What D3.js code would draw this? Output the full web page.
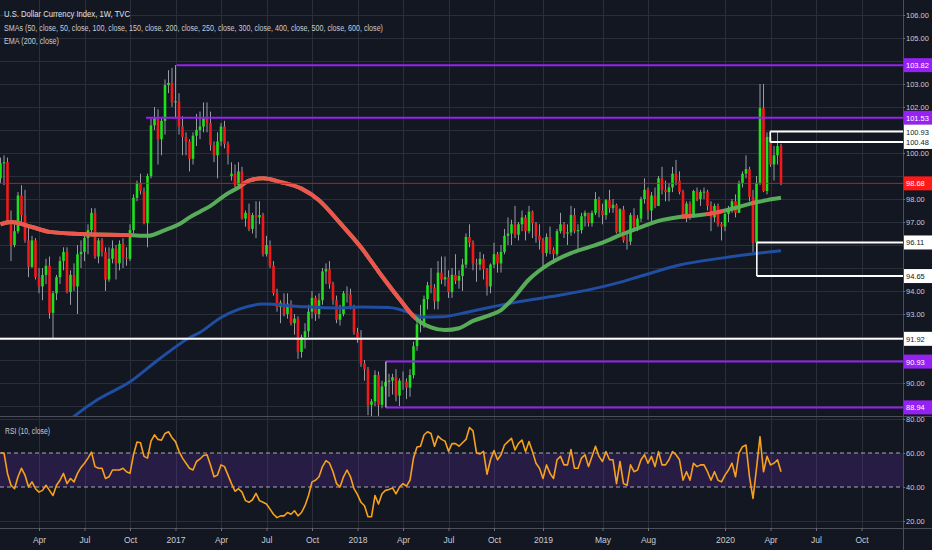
<!DOCTYPE html>
<html><head><meta charset="utf-8">
<script src="https://cdn.jsdelivr.net/npm/d3@7"></script>
<style>
html,body{margin:0;padding:0;background:#131722;overflow:hidden}
svg{display:block}
text{font-family:"Liberation Sans","Noto Sans",Arial,sans-serif}
</style></head><body>
<svg id="chart" width="932" height="550"></svg>
<script>
// ================= DATA =================
const firstWeekStart = "2016-01-18"; // weekly bars, one per week from this Monday
const opens = [
98.90,99.55,99.60,97.05,96.00,96.60,98.15,97.30,96.20,95.05,
96.20,94.60,94.20,94.70,95.10,93.05,93.90,94.60,95.30,95.70,
93.95,94.70,94.20,95.60,95.70,96.30,96.65,97.40,95.50,96.20,
95.70,94.50,95.40,95.85,95.20,96.05,95.45,95.40,96.65,98.05,
98.70,98.35,96.95,99.00,101.20,101.50,100.60,101.40,102.95,103.05,
102.20,102.25,101.15,100.70,100.50,99.75,100.75,101.00,101.15,101.50,
101.30,100.35,99.90,100.50,101.15,100.40,99.00,99.10,98.60,99.20,
97.15,97.40,96.70,97.30,97.20,97.30,95.60,96.00,95.10,93.90,
93.30,93.50,93.00,93.45,92.60,92.80,91.35,92.00,92.25,93.10,
93.70,93.00,93.60,94.85,94.95,94.30,93.60,92.75,93.00,93.90,
93.85,93.30,92.20,91.90,90.85,90.60,89.05,89.20,90.35,89.05,
89.85,90.05,90.10,90.25,89.45,90.10,90.05,89.80,90.35,91.60,
92.55,92.60,93.65,94.25,94.15,93.55,94.80,94.50,94.60,93.95,
94.70,94.45,94.65,95.15,96.35,96.10,95.20,95.15,95.40,94.95,
94.20,95.15,95.60,95.20,95.70,96.40,96.50,96.90,96.45,96.90,
97.20,96.60,97.45,96.95,96.40,96.20,95.65,96.35,95.80,95.60,
96.60,96.90,96.50,96.55,97.30,96.60,96.65,97.25,97.40,96.95,
97.40,98.00,97.50,97.30,97.95,97.60,97.75,96.55,97.55,96.20,
96.15,97.30,96.80,97.15,98.00,98.40,97.50,98.15,97.70,98.90,
98.40,98.30,98.50,99.10,98.80,98.30,97.30,97.80,97.25,98.35,
98.00,98.28,98.32,97.70,97.20,97.70,96.90,96.80,97.35,97.60,
97.90,97.40,98.70,99.10,99.30,98.10,96.10,98.70,101.95,98.35,
100.70,99.50,99.90,100.30];
const highs = [
99.80,99.90,99.80,97.50,97.00,98.30,98.60,98.40,96.90,96.40,
96.30,95.00,95.00,95.40,95.50,94.00,94.70,95.50,95.90,95.90,
94.90,95.20,96.00,96.20,96.50,96.90,97.60,97.60,96.30,96.30,
95.90,95.90,96.20,96.00,96.20,96.30,95.90,96.90,98.20,98.80,
99.10,98.50,99.10,101.50,102.00,101.90,101.50,103.20,103.60,103.70,
103.82,102.60,101.60,100.90,100.60,100.90,101.70,101.80,102.20,102.20,
101.80,100.50,100.90,101.30,101.40,100.50,99.60,99.50,99.60,99.40,
97.50,97.80,97.40,97.90,97.90,97.40,96.40,96.20,95.30,94.10,
93.60,93.90,93.90,93.60,93.00,92.90,92.10,92.60,93.40,94.00,
93.80,93.90,95.00,95.20,95.30,94.40,93.80,93.40,94.00,94.20,
94.10,93.40,92.40,92.30,91.00,90.70,89.30,90.55,90.50,90.10,
90.60,90.40,90.40,90.60,90.20,90.50,90.20,90.60,91.80,92.90,
93.40,93.80,94.40,95.00,94.30,95.30,95.50,95.50,94.90,95.00,
95.60,94.90,95.40,96.50,96.90,96.20,95.40,95.70,95.60,95.00,
95.20,96.10,95.70,96.00,96.70,97.20,97.10,97.70,97.00,97.50,
97.30,97.70,97.50,97.00,96.90,96.30,96.50,96.80,95.90,96.70,
97.40,97.00,96.90,97.70,97.60,96.90,97.40,97.50,97.40,97.50,
98.30,98.10,97.80,98.00,98.40,98.00,97.80,97.60,97.70,96.50,
97.40,97.60,97.30,98.10,98.90,98.50,98.30,98.50,99.00,99.40,
98.80,98.70,99.40,99.70,99.20,98.40,97.90,97.90,98.40,98.50,
98.40,98.50,98.40,97.90,97.80,97.80,97.00,97.40,97.70,98.00,
98.20,98.80,99.20,99.90,99.40,98.40,99.00,103.00,103.00,100.90,
100.93,100.30,100.93,100.40];
const lows = [
98.70,98.60,96.90,95.30,95.90,96.50,97.00,96.10,94.60,95.00,
94.50,93.90,93.60,94.30,92.80,91.92,93.60,94.30,94.90,93.90,
93.40,94.00,93.00,95.00,95.30,95.60,96.50,95.40,95.20,95.50,
94.00,94.40,95.20,94.50,94.90,95.00,95.10,95.30,96.50,97.90,
98.20,96.90,95.90,98.90,101.00,99.50,99.90,100.80,102.60,102.00,
101.50,100.80,99.90,99.90,99.20,99.50,100.30,100.60,100.90,100.90,
100.10,99.60,98.90,100.30,100.20,99.50,98.80,98.50,98.50,97.10,
96.80,96.60,96.50,96.30,96.90,95.50,95.50,95.00,93.80,93.10,
92.60,92.90,92.80,92.50,92.10,91.05,91.10,91.50,92.00,92.80,
92.70,92.80,93.40,94.30,94.10,93.40,92.60,92.50,92.90,93.50,
93.20,92.10,91.75,90.70,90.10,88.60,88.45,89.00,88.25,88.90,
89.50,89.40,89.50,89.20,89.00,89.70,89.30,89.40,90.20,91.40,
92.20,92.40,93.20,93.90,93.20,93.20,94.30,94.20,93.70,93.70,
94.30,94.10,94.00,95.00,95.90,94.90,94.40,94.90,94.50,93.80,
93.90,95.00,94.80,94.80,95.60,96.00,96.00,96.30,96.20,96.60,
96.20,96.50,96.30,96.10,95.80,95.00,95.50,95.60,95.20,95.50,
96.50,96.30,96.00,96.40,96.50,95.80,96.50,96.80,96.80,96.80,
97.30,97.20,96.90,97.10,97.40,97.40,96.50,96.50,96.10,95.80,
96.00,96.60,96.60,97.00,97.80,97.10,97.00,97.60,97.70,98.20,
97.90,97.90,98.30,98.60,98.20,97.30,97.00,97.10,97.20,97.90,
97.70,98.00,97.50,96.60,97.00,96.80,96.20,96.60,97.00,97.40,
97.20,97.40,98.50,98.90,97.90,95.70,94.65,98.60,98.30,98.20,
99.40,98.80,99.50,98.60];
const closes = [
99.55,99.60,97.05,96.00,96.60,98.15,97.30,96.20,95.05,96.20,
94.60,94.20,94.70,95.10,93.05,93.90,94.60,95.30,95.70,93.95,
94.70,94.20,95.60,95.70,96.30,96.65,97.40,95.50,96.20,95.70,
94.50,95.40,95.85,95.20,96.05,95.45,95.40,96.65,98.05,98.70,
98.35,96.95,99.00,101.20,101.50,100.60,101.40,102.95,103.05,102.20,
102.25,101.15,100.70,100.50,99.75,100.75,101.00,101.15,101.50,101.30,
100.35,99.90,100.50,101.15,100.40,99.95,99.10,98.60,99.20,97.15,
97.40,96.70,97.30,97.20,97.30,95.60,96.00,95.10,93.90,93.30,
93.50,93.00,93.45,92.60,92.80,91.35,92.00,92.25,93.10,93.70,
93.00,93.60,94.85,94.95,94.30,93.60,92.75,93.00,93.90,93.85,
93.30,92.20,91.90,90.85,90.60,89.05,89.20,90.35,89.05,89.85,
90.05,90.10,90.25,89.45,90.10,90.05,89.80,90.35,91.60,92.55,
92.60,93.65,94.25,94.15,93.55,94.80,94.50,94.60,93.95,94.70,
94.45,94.65,95.15,96.35,96.10,95.20,95.15,95.40,94.95,94.20,
95.15,95.60,95.20,95.70,96.40,96.50,96.90,96.45,96.90,97.20,
96.60,97.45,96.95,96.40,96.20,95.65,96.35,95.80,95.60,96.60,
96.90,96.50,96.55,97.30,96.60,96.65,97.25,97.40,96.95,97.40,
98.00,97.50,97.30,97.95,97.60,97.75,96.55,97.55,96.20,96.15,
97.30,96.80,97.15,98.00,98.40,97.50,98.15,97.70,98.90,98.40,
98.30,98.50,99.10,98.80,98.30,97.30,97.80,97.25,98.35,98.00,
98.30,98.32,97.70,97.20,97.70,96.90,96.80,97.35,97.60,97.90,
97.40,98.70,99.10,99.30,98.10,96.10,98.70,101.95,98.35,100.70,
99.50,99.90,100.30,98.68];
const rsiValues = [
60,60,48,41,39,46,51,47,40,43,
39,37,38,41,38,35,41,44,48,42,
45,43,48,51.5,54,57,60.5,52,51,51,
45,46,50,50,50,51,49,48,59,66.5,
66,58,57,67,70.7,68,67.5,71.5,72.5,69,
66.7,61,57,54,51,50,55,56.5,58.5,59,
53,46,47,53,52,47,42,37.5,39,37,
32,31,32.5,36.2,32,31,30,27,24,22,
23,23,25,24,26,23,25,29,35,43,
44,46,52,55.5,54,49,42,40,46,50,
46,39,35.5,31,29,22.5,22.5,35,30,36,
38,38.5,39.5,36,40,42,40.5,44,57,63.5,
64,70.6,72.5,71.5,64,70,68,67,61,65.5,
65.5,64,66,68,75,73,60,59.5,61,47.5,
56,61.4,56,59,64.7,66.7,68.6,61.8,65.7,67.6,
60.8,66.7,60.8,54,51,45,53,48,45,56,
58,53,53,62,51,51,57,59,52,58,
64,58,55,60.8,56,56,42,55,42,41,
53,49,50,56,59,54,58,52,60.8,53,
53,56,60.8,59,56,44,49,44,54,52,
53,53,49,44,49,44,43,47,50,54,
46,60,63.7,64.7,46,33.3,51,69.6,49,58,
53,54,56,49];
// moving average (red/green) sampled at week indices
const maWeeks  = [0,3,9,14,23,37,42,47,51,54,57,60,64,68,71,75,80,86,91,97,103,108,114,118,120,123,127,131,135,140,143,146,151,157,163,168,172,177,183,188,194,200,205,211,215,219,223];
const maValues = [96.9,97.0,96.78,96.57,96.48,96.43,96.4,96.65,96.9,97.2,97.45,97.7,98.15,98.5,98.8,98.9,98.74,98.45,97.95,96.96,95.9,94.85,93.65,92.9,92.65,92.42,92.3,92.38,92.7,92.96,93.17,93.6,94.5,95.2,95.65,95.9,96.1,96.43,96.78,97.05,97.22,97.3,97.43,97.65,97.83,97.95,98.05];
const maRedSpans = [[-2,37.5],[68.5,118.5],[194.5,197.5],[201.5,206.5],[214.5,215.5]];
// EMA (blue) sampled at week indices
const emaWeeks  = [16,21,28,37,45,54,57,63,68,75,86,97,103,111,117,120,126,134,145,157,168,175,183,194,206,217,223];
const emaValues = [87.9,88.55,89.3,90.05,91.0,91.97,92.2,92.85,93.2,93.43,93.32,93.26,93.3,93.28,93.05,92.87,92.88,93.1,93.45,93.75,94.05,94.3,94.65,95.13,95.43,95.65,95.75];
// horizontal drawings
const levelValues     = [103.82,101.53,100.93,100.48,98.68,96.11,94.65,91.92,90.93,88.94];
const levelStartWeeks = [50.3,41.6,219.9,219.9,-2,216.1,216.1,-2,110.1,110.1];
const levelKinds      = ["purple","purple","white","white","red","white","white","white","purple","purple"];
const boxPairs = [[100.93,100.48,219.9,"white"],[96.11,94.65,216.1,"white"],[90.93,88.94,110.1,"grey"]];
// axes
const timeTickDates  = ["2016-04-04","2016-07-04","2016-10-03","2017-01-02","2017-04-03","2017-07-03","2017-10-02","2018-01-01","2018-04-02","2018-07-02","2018-10-01","2019-01-07","2019-05-06","2019-08-05","2020-01-06","2020-04-06","2020-07-06","2020-10-05"];
const timeTickLabels = ["Apr","Jul","Oct","2017","Apr","Jul","Oct","2018","Apr","Jul","Oct","2019","May","Aug","2020","Apr","Jul","Oct"];
const priceTicks = [89,90,91,92,93,94,95,96,97,98,99,100,101,102,103,104,105,106];
const rsiTicks = [20,40,60,80];
const rsiBand = [40,60];
const legendLines = ["U.S. Dollar Currency Index, 1W, TVC",
  "SMAs (50, close, 50, close, 100, close, 150, close, 200, close, 250, close, 300, close, 400, close, 500, close, 600, close)",
  "EMA (200, close)"];
const rsiTitle = "RSI (10, close)";

// ================= LAYOUT =================
const W = 932, H = 550, AX = 903, PB = 416, RT = 417, RB = 528;
const COLORS = {bg:"#131722", grid:"#2a2e39", up:"#1fe01c", down:"#f2191a", wick:"#989ba4",
  purple:"#9522f2", white:"#ffffff", red:"#e01b1b", grey:"#a9acb5", green:"#5cb35c", maRed:"#f0544c",
  blue:"#1f4ea3", rsi:"#f7a11c", text:"#c9ccd4"};
const FONT = '"Liberation Sans","Noto Sans",Arial,sans-serif';
const AXFONT = 7.5;
const parse = d3.utcParse("%Y-%m-%d");
const t0 = parse(firstWeekStart).getTime();
const weekDate = k => new Date(t0 + k * 7 * 864e5);
const fmt2 = d3.format(".2f");

const x = d3.scaleUtc().domain([parse("2017-01-02"), parse("2020-01-06")]).range([175.5, 725]);
const y = d3.scaleLinear().domain([90, 106]).range([383, 15]);
const yr = d3.scaleLinear().domain([20, 80]).range([521, 419]);
const bx = k => x(weekDate(k));

const svg = d3.select("#chart");
svg.append("rect").attr("width", W).attr("height", H).attr("fill", COLORS.bg);
const defs = svg.append("defs");
defs.append("clipPath").attr("id", "pclip").append("rect").attr("x", 0).attr("y", 0).attr("width", AX).attr("height", PB);
defs.append("clipPath").attr("id", "rclip").append("rect").attr("x", 0).attr("y", RT).attr("width", AX).attr("height", RB - RT);
const redClip = defs.append("clipPath").attr("id", "redclip");
maRedSpans.forEach(([a, b]) => redClip.append("rect").attr("x", bx(a)).attr("y", 0).attr("width", bx(b) - bx(a)).attr("height", PB));

// ---- grid ----
const grid = svg.append("g").attr("stroke", COLORS.grid).attr("stroke-width", 1);
timeTickDates.forEach(d => {
  const xx = Math.round(x(parse(d))) + 0.5;
  grid.append("line").attr("x1", xx).attr("x2", xx).attr("y1", 0).attr("y2", PB);
  grid.append("line").attr("x1", xx).attr("x2", xx).attr("y1", RT).attr("y2", RB);
});
priceTicks.forEach(v => {
  const yy = Math.round(y(v)) + 0.5;
  grid.append("line").attr("x1", 0).attr("x2", AX).attr("y1", yy).attr("y2", yy);
});
[20, 80].forEach(v => {
  const yy = Math.round(yr(v)) + 0.5;
  grid.append("line").attr("x1", 0).attr("x2", AX).attr("y1", yy).attr("y2", yy);
});

// ---- price pane ----
const pg = svg.append("g").attr("clip-path", "url(#pclip)");
const bars = closes.map((c, k) => ({k, o: opens[k], h: highs[k], l: lows[k], c}));
pg.append("g").selectAll("line").data(bars).join("line")
  .attr("x1", d => bx(d.k)).attr("x2", d => bx(d.k))
  .attr("y1", d => y(d.h)).attr("y2", d => y(d.l))
  .attr("stroke", COLORS.wick).attr("stroke-width", 1);
pg.append("g").selectAll("rect").data(bars).join("rect")
  .attr("x", d => bx(d.k) - 1.3).attr("width", 2.6)
  .attr("y", d => y(Math.max(d.o, d.c)))
  .attr("height", d => Math.max(1, Math.abs(y(d.o) - y(d.c))))
  .attr("fill", d => d.c >= d.o ? COLORS.up : COLORS.down);

const lineGen = d3.line().x(d => bx(d.k)).y(d => y(d.v)).curve(d3.curveMonotoneX);
const maPts = maWeeks.map((k, i) => ({k, v: maValues[i]}));
const emaPts = emaWeeks.map((k, i) => ({k, v: emaValues[i]}));
pg.append("path").attr("d", lineGen(emaPts)).attr("fill", "none")
  .attr("stroke", COLORS.blue).attr("stroke-width", 3);
pg.append("path").attr("d", lineGen(maPts)).attr("fill", "none")
  .attr("stroke", COLORS.green).attr("stroke-width", 4).attr("stroke-opacity", 0.95);
pg.append("g").attr("clip-path", "url(#redclip)").append("path").attr("d", lineGen(maPts))
  .attr("fill", "none").attr("stroke", COLORS.maRed).attr("stroke-width", 4);

// horizontal drawings
levelValues.forEach((v, i) => {
  const kind = levelKinds[i];
  const yy = y(v);
  pg.append("line").attr("x1", Math.max(0, bx(levelStartWeeks[i]))).attr("x2", AX)
    .attr("y1", yy).attr("y2", yy)
    .attr("stroke", COLORS[kind]).attr("stroke-width", kind === "red" ? 1 : 2)
    .attr("stroke-opacity", kind === "red" ? 0.85 : 1);
});
boxPairs.forEach(([a, b, k, c]) => {
  const xx = bx(k);
  pg.append("line").attr("x1", xx).attr("x2", xx).attr("y1", y(a)).attr("y2", y(b))
    .attr("stroke", COLORS[c]).attr("stroke-width", 1.5);
});

// ---- RSI pane ----
const rg = svg.append("g").attr("clip-path", "url(#rclip)");
rg.append("rect").attr("x", 0).attr("width", AX)
  .attr("y", yr(rsiBand[1])).attr("height", yr(rsiBand[0]) - yr(rsiBand[1]))
  .attr("fill", "rgba(120,50,200,0.2)");
rsiBand.forEach(v => {
  rg.append("line").attr("x1", 0).attr("x2", AX).attr("y1", yr(v)).attr("y2", yr(v))
    .attr("stroke", "#a6a9b3").attr("stroke-dasharray", "4,3").attr("stroke-width", 1);
});
const rsiLine = d3.line().x((d, k) => bx(k)).y(d => yr(d));
rg.append("path").attr("d", rsiLine(rsiValues)).attr("fill", "none")
  .attr("stroke", COLORS.rsi).attr("stroke-width", 1.6).attr("stroke-linejoin", "round");

// ---- separators ----
svg.append("line").attr("x1", 0).attr("x2", W).attr("y1", PB + 0.5).attr("y2", PB + 0.5).attr("stroke", "#4c4f5a");
svg.append("line").attr("x1", 0).attr("x2", W).attr("y1", RB + 0.5).attr("y2", RB + 0.5).attr("stroke", "#4c4f5a");
svg.append("line").attr("x1", AX + 0.5).attr("x2", AX + 0.5).attr("y1", 0).attr("y2", H).attr("stroke", "#4c4f5a");

// ---- axes ----
const visibleTicks = priceTicks.filter(v => levelValues.every(l => Math.abs(y(v) - y(l)) >= 10));
const pa = svg.append("g").attr("transform", `translate(${AX},0)`)
  .call(d3.axisRight(y).tickValues(visibleTicks).tickFormat(fmt2).tickSize(2).tickPadding(1));
const ra = svg.append("g").attr("transform", `translate(${AX},0)`)
  .call(d3.axisRight(yr).tickValues(rsiTicks).tickFormat(fmt2).tickSize(2).tickPadding(1));
const ta = svg.append("g").attr("transform", `translate(0,${RB})`)
  .call(d3.axisBottom(x).tickValues(timeTickDates.map(parse)).tickFormat((d, i) => timeTickLabels[i]).tickSize(3).tickPadding(6));
[pa, ra, ta].forEach(g => {
  g.select(".domain").remove();
  g.selectAll("line").attr("stroke", "#6a6d78");
  g.selectAll("text").attr("fill", COLORS.text).attr("font-size", AXFONT).attr("font-family", FONT);
});
ta.selectAll("text").attr("font-size", 8.5);

// value boxes on price axis
levelValues.forEach((v, i) => {
  const kind = levelKinds[i];
  const yy = y(v);
  const fill = kind === "purple" ? COLORS.purple : kind === "red" ? "#ff1a1a" : "#ffffff";
  svg.append("rect").attr("x", AX + 1).attr("y", yy - 7).attr("width", W - AX - 1).attr("height", 14).attr("fill", fill);
  svg.append("text").attr("x", AX + 3).attr("y", yy + 3)
    .attr("font-size", AXFONT).attr("font-family", FONT)
    .attr("fill", kind === "white" ? "#131722" : "#ffffff")
    .text(fmt2(v));
});

// ---- legends ----
const legendWidths = [126, 379, 55];
legendLines.forEach((s, i) => {
  svg.append("text").attr("x", 4).attr("y", 17 + i * 13.5)
    .attr("font-size", 8.5).attr("font-family", FONT).attr("fill", i === 0 ? "#dfe1e6" : COLORS.text)
    .attr("textLength", legendWidths[i]).attr("lengthAdjust", "spacingAndGlyphs")
    .text(s);
});
svg.append("text").attr("x", 5).attr("y", 434).attr("font-size", 8.5).attr("font-family", FONT)
  .attr("fill", COLORS.text).attr("textLength", 45).attr("lengthAdjust", "spacingAndGlyphs").text(rsiTitle);
</script>
</body></html>
